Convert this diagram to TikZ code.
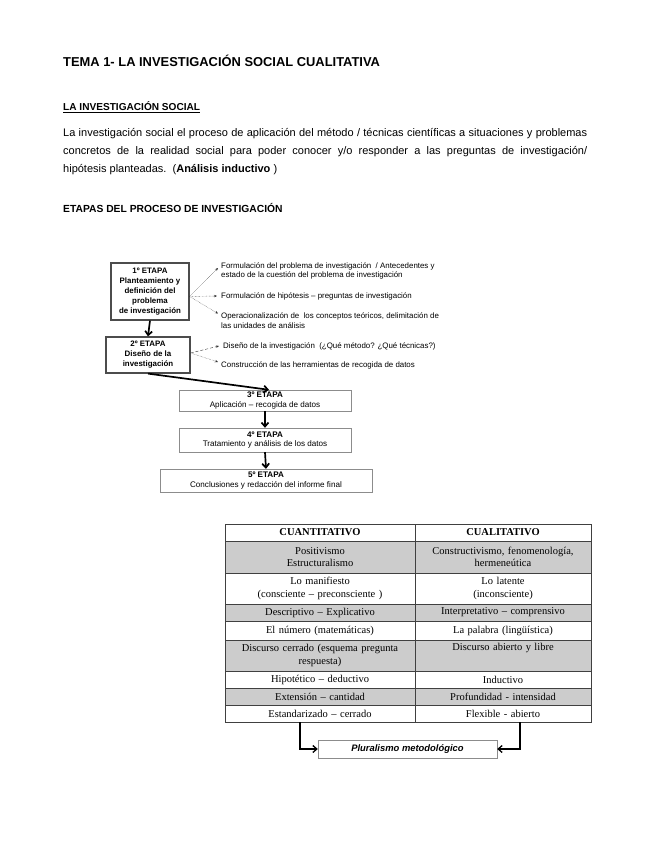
\documentclass[tikz,border=0pt]{standalone}
\usepackage{fontspec}
\setmainfont{Liberation Sans}
\newfontfamily\tablafont{Liberation Serif}
\usetikzlibrary{arrows.meta, calc, positioning}

\begin{document}
\begin{tikzpicture}[
    x=1pt, y=-1pt,
    >={Straight Barb[length=4pt, width=7pt]},
    etapa/.style={draw=black!70, line width=1.2pt, fill=white, align=center,
        font=\fontsize{7.9}{10}\selectfont\bfseries, inner sep=1pt},
    fase/.style={draw=black!45, thin, fill=white, align=center,
        font=\fontsize{8.1}{9.5}\selectfont, inner sep=1pt},
    nota/.style={anchor=west, align=left, font=\fontsize{7.9}{9.5}\selectfont, inner sep=0pt},
    flecha/.style={->, line width=1.7pt},
    punteada/.style={-{Stealth[length=3pt, width=2.5pt]}, densely dotted, black!80},
    celda/.style={align=center, text width=180pt, inner sep=0pt,
        font=\tablafont\fontsize{10.5}{12.5}\selectfont},
]
\useasboundingbox (0,0) rectangle (655,848);

% Heading and paragraph
\node[anchor=base west, inner sep=0pt, font=\fontsize{12.9}{16}\selectfont\bfseries]
    (titulo) at (63,67) {TEMA 1- LA INVESTIGACIÓN SOCIAL CUALITATIVA};
\node[anchor=base west, inner sep=0pt, font=\fontsize{10.1}{12}\selectfont\bfseries]
    (seccion) at (63,111) {\underline{LA INVESTIGACIÓN SOCIAL}};
\node[anchor=base west, inner sep=0pt, font=\fontsize{11}{12}\selectfont]
    (linea1) at (63,136) {\spaceskip=0.1em plus 1em\makebox[524pt][s]{La investigación social el proceso de aplicación del método / técnicas científicas a situaciones y problemas}};
\node[anchor=base west, inner sep=0pt, font=\fontsize{11}{12}\selectfont]
    (linea2) at (63,154) {\spaceskip=0.2em plus 1em\makebox[524pt][s]{concretos de la realidad social para poder conocer y/o responder a las preguntas de investigación/}};
\node[anchor=base west, inner sep=0pt, font=\fontsize{11}{12}\selectfont]
    (linea3) at (63,172) {hipótesis planteadas.\ \ (\textbf{Análisis inductivo} )};
\node[anchor=base west, inner sep=0pt, font=\fontsize{10.3}{12}\selectfont\bfseries]
    (etapas) at (63,212) {ETAPAS DEL PROCESO DE INVESTIGACIÓN};

% Stages 1 and 2
\node[etapa, minimum width=78pt, minimum height=57pt] (e1) at (150,291.5)
    {1º ETAPA\\Planteamiento y\\definición del\\problema\\de investigación};
\node[etapa, minimum width=84pt, minimum height=36pt] (e2) at (148,355)
    {2º ETAPA\\Diseño de la\\investigación};

% Stages 3 to 5
\node[fase, minimum width=172pt, minimum height=21pt] (e3) at (265,400.5)
    {\textbf{3º ETAPA}\\Aplicación – recogida de datos};
\node[fase, minimum width=172pt, minimum height=24pt] (e4) at (265,440)
    {\textbf{4º ETAPA}\\Tratamiento y análisis de los datos};
\node[fase, minimum width=212pt, minimum height=23pt] (e5) at (266,480.5)
    {\textbf{5º ETAPA}\\Conclusiones y redacción del informe final};

% Notes on the right
\node[nota] (n1) at (221,271) {Formulación del problema de investigación\ \ / Antecedentes y\\estado de la cuestión del problema de investigación};
\node[nota] (n2) at (221,296) {Formulación de hipótesis – preguntas de investigación};
\node[nota] (n3) at (221,320.5) {Operacionalización de\ \ los conceptos teóricos, delimitación de\\las unidades de análisis};
\node[nota] (n4) at (223,346) {Diseño de la investigación\ \ (¿Qué método? ¿Qué técnicas?)};
\node[nota] (n5) at (221,365) {Construcción de las herramientas de recogida de datos};

\coordinate (o1) at ($(e1.east)+(0,5)$);
\coordinate (o2) at ($(e2.east)+(0,-2)$);
\draw[punteada] (o1) -- ($(n1.west)+(-3,-3)$);
\draw[punteada] (o1) -- ($(n2.west)+(-4,0)$);
\draw[punteada] (o1) -- ($(n3.west)+(-3,-7)$);
\draw[punteada, densely dashed] (o2) -- ($(n4.west)+(-4,0)$);
\draw[punteada] (o2) -- ($(n5.west)+(-3,-3)$);

% Main flow
\draw[flecha] (e1.south) -- (e2.north);
\draw[flecha] (e2.south) -- ($(e3.north)+(4,0)$);
\draw[flecha] (e3.south) -- (e4.north);
\draw[flecha] (e4.south) -- (e5.north);

% Comparison table: shaded rows, then rules
\fill[black!20] (225,541) rectangle (591,573);
\fill[black!20] (225,604) rectangle (591,621);
\fill[black!20] (225,640) rectangle (591,671);
\fill[black!20] (225,688) rectangle (591,705);
\draw[black!75, line width=0.8pt] (225,524) rectangle (591,722)
    (415,524) -- (415,722)
    (225,541) -- (591,541)  (225,573) -- (591,573)
    (225,604) -- (591,604)  (225,621) -- (591,621)
    (225,640) -- (591,640)  (225,671) -- (591,671)
    (225,688) -- (591,688)  (225,705) -- (591,705);

\node[celda] (cuanti0) at (320,532.5) {\textbf{CUANTITATIVO}};
\node[celda] (cuali0)  at (503,532.5) {\textbf{CUALITATIVO}};
\node[celda] (cuanti1) at (320,557) {Positivismo\\Estructuralismo};
\node[celda] (cuali1)  at (503,557) {Constructivismo, fenomenología,\\hermeneútica};
\node[celda] (cuanti2) at (320,588.5) {Lo manifiesto\\(consciente – preconsciente )};
\node[celda] (cuali2)  at (503,588.5) {Lo latente\\(inconsciente)};
\node[celda] (cuanti3) at (320,612.5) {Descriptivo – Explicativo};
\node[celda] (cuali3)  at (503,612.5) {Interpretativo – comprensivo};
\node[celda] (cuanti4) at (320,630.5) {El número (matemáticas)};
\node[celda] (cuali4)  at (503,630.5) {La palabra (lingüística)};
\node[celda] (cuanti5) at (320,655.5) {Discurso cerrado (esquema pregunta\\respuesta)};
\node[celda, anchor=north] (cuali5) at (503,643) {Discurso abierto y libre};
\node[celda] (cuanti6) at (320,679.5) {Hipotético – deductivo};
\node[celda] (cuali6)  at (503,679.5) {Inductivo};
\node[celda] (cuanti7) at (320,696.5) {Extensión – cantidad};
\node[celda] (cuali7)  at (503,696.5) {Profundidad - intensidad};
\node[celda] (cuanti8) at (320,713.5) {Estandarizado – cerrado};
\node[celda] (cuali8)  at (503,713.5) {Flexible - abierto};

% Both approaches meet
\node[fase, minimum width=179pt, minimum height=18pt,
    font=\fontsize{9.4}{11}\selectfont\bfseries\itshape] (plural) at (407.5,749)
    {Pluralismo metodológico};
\coordinate (izq) at (300,722);
\coordinate (der) at (520,722);
\draw[->, line width=1.3pt] (izq) |- (plural.west);
\draw[->, line width=1.3pt] (der) |- (plural.east);

\end{tikzpicture}
\end{document}
